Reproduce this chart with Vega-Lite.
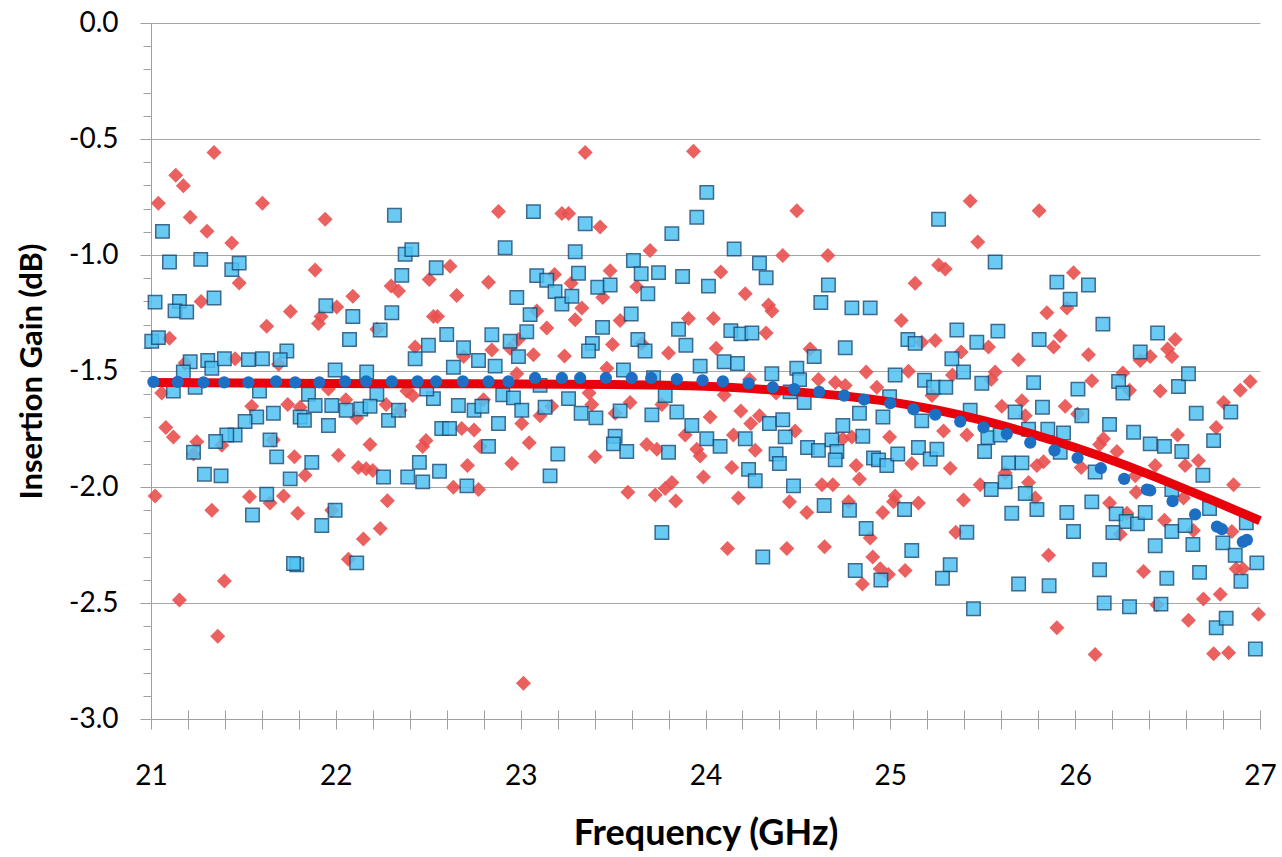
{
  "$schema": "https://vega.github.io/schema/vega-lite/v6.json",
  "width": 1109,
  "height": 696,
  "autosize": {"type": "none"},
  "padding": {"left": 151, "top": 23, "right": 22, "bottom": 138},
  "background": "white",
  "config": {"view": {"stroke": null}, "font": "Lato"},
  "datasets": {
    "red": [
      {"freq":21.341,"gain":-0.558},{"freq":21.134,"gain":-0.656},{"freq":21.175,"gain":-0.701},{"freq":21.040,"gain":-0.777},{"freq":21.603,"gain":-0.777},{"freq":21.212,"gain":-0.837},{"freq":21.942,"gain":-0.846},{"freq":21.303,"gain":-0.898},{"freq":21.437,"gain":-0.948},{"freq":21.888,"gain":-1.065},{"freq":21.477,"gain":-1.121},{"freq":21.271,"gain":-1.200},{"freq":21.754,"gain":-1.244},{"freq":21.626,"gain":-1.307},{"freq":21.906,"gain":-1.295},{"freq":21.920,"gain":-1.265},{"freq":22.005,"gain":-1.224},{"freq":21.100,"gain":-1.359},{"freq":21.455,"gain":-1.447},{"freq":21.690,"gain":-1.471},{"freq":21.184,"gain":-1.466},{"freq":21.058,"gain":-1.595},{"freq":21.960,"gain":-1.578},{"freq":21.545,"gain":-1.652},{"freq":21.740,"gain":-1.644},{"freq":21.807,"gain":-1.656},{"freq":21.080,"gain":-1.743},{"freq":21.121,"gain":-1.784},{"freq":21.248,"gain":-1.805},{"freq":21.230,"gain":-1.858},{"freq":21.383,"gain":-1.820},{"freq":21.662,"gain":-1.797},{"freq":21.776,"gain":-1.870},{"freq":21.834,"gain":-1.949},{"freq":22.014,"gain":-1.863},{"freq":21.022,"gain":-2.039},{"freq":21.329,"gain":-2.100},{"freq":21.533,"gain":-2.042},{"freq":21.644,"gain":-2.069},{"freq":21.717,"gain":-2.039},{"freq":21.794,"gain":-2.113},{"freq":21.978,"gain":-2.100},{"freq":21.397,"gain":-2.405},{"freq":21.154,"gain":-2.487},{"freq":21.361,"gain":-2.643},
      {"freq":22.880,"gain":-0.813},{"freq":22.092,"gain":-1.178},{"freq":22.299,"gain":-1.134},{"freq":22.339,"gain":-1.155},{"freq":22.505,"gain":-1.106},{"freq":22.618,"gain":-1.048},{"freq":22.654,"gain":-1.175},{"freq":22.826,"gain":-1.117},{"freq":22.528,"gain":-1.265},{"freq":22.550,"gain":-1.265},{"freq":22.222,"gain":-1.320},{"freq":22.429,"gain":-1.397},{"freq":22.691,"gain":-1.438},{"freq":22.844,"gain":-1.410},{"freq":22.943,"gain":-1.402},{"freq":22.988,"gain":-1.364},{"freq":22.384,"gain":-1.586},{"freq":22.416,"gain":-1.606},{"freq":22.054,"gain":-1.624},{"freq":22.272,"gain":-1.644},{"freq":22.113,"gain":-1.702},{"freq":22.348,"gain":-1.669},{"freq":22.799,"gain":-1.624},{"freq":22.681,"gain":-1.748},{"freq":22.748,"gain":-1.754},{"freq":23.006,"gain":-1.726},{"freq":22.185,"gain":-1.817},{"freq":22.470,"gain":-1.825},{"freq":22.488,"gain":-1.800},{"freq":22.781,"gain":-1.825},{"freq":22.122,"gain":-1.916},{"freq":22.164,"gain":-1.921},{"freq":22.200,"gain":-1.929},{"freq":22.712,"gain":-1.907},{"freq":22.952,"gain":-1.899},{"freq":22.636,"gain":-2.001},{"freq":22.772,"gain":-2.011},{"freq":22.279,"gain":-2.059},{"freq":22.240,"gain":-2.179},{"freq":22.149,"gain":-2.224},{"freq":22.068,"gain":-2.311},{"freq":23.015,"gain":-2.846},
      {"freq":23.349,"gain":-0.558},{"freq":23.935,"gain":-0.553},{"freq":23.223,"gain":-0.821},{"freq":23.259,"gain":-0.821},{"freq":23.430,"gain":-0.879},{"freq":23.700,"gain":-0.981},{"freq":23.183,"gain":-1.084},{"freq":23.273,"gain":-1.122},{"freq":23.484,"gain":-1.068},{"freq":23.628,"gain":-1.137},{"freq":23.444,"gain":-1.183},{"freq":23.331,"gain":-1.228},{"freq":23.087,"gain":-1.241},{"freq":23.295,"gain":-1.279},{"freq":23.538,"gain":-1.282},{"freq":23.908,"gain":-1.274},{"freq":23.141,"gain":-1.315},{"freq":23.497,"gain":-1.386},{"freq":23.069,"gain":-1.430},{"freq":23.237,"gain":-1.435},{"freq":23.800,"gain":-1.422},{"freq":23.466,"gain":-1.488},{"freq":23.655,"gain":-1.381},{"freq":22.979,"gain":-1.512},{"freq":23.370,"gain":-1.595},{"freq":23.385,"gain":-1.644},{"freq":23.592,"gain":-1.636},{"freq":23.764,"gain":-1.644},{"freq":23.511,"gain":-1.682},{"freq":23.168,"gain":-1.652},{"freq":23.105,"gain":-1.693},{"freq":23.046,"gain":-1.809},{"freq":23.890,"gain":-1.776},{"freq":23.682,"gain":-1.817},{"freq":23.737,"gain":-1.837},{"freq":23.953,"gain":-1.837},{"freq":23.971,"gain":-1.866},{"freq":23.403,"gain":-1.870},{"freq":23.989,"gain":-1.957},{"freq":23.580,"gain":-2.023},{"freq":23.728,"gain":-2.034},{"freq":23.782,"gain":-2.006},{"freq":23.818,"gain":-1.981},{"freq":23.839,"gain":-2.060},
      {"freq":24.494,"gain":-0.809},{"freq":24.418,"gain":-1.002},{"freq":24.662,"gain":-1.002},{"freq":24.083,"gain":-1.073},{"freq":24.215,"gain":-1.167},{"freq":24.341,"gain":-1.216},{"freq":24.359,"gain":-1.241},{"freq":24.043,"gain":-1.274},{"freq":24.328,"gain":-1.336},{"freq":24.058,"gain":-1.402},{"freq":24.566,"gain":-1.405},{"freq":24.869,"gain":-1.504},{"freq":24.611,"gain":-1.537},{"freq":24.702,"gain":-1.550},{"freq":24.756,"gain":-1.562},{"freq":24.927,"gain":-1.570},{"freq":24.238,"gain":-1.537},{"freq":24.101,"gain":-1.603},{"freq":24.382,"gain":-1.595},{"freq":24.025,"gain":-1.698},{"freq":24.191,"gain":-1.672},{"freq":24.245,"gain":-1.726},{"freq":24.292,"gain":-1.693},{"freq":24.151,"gain":-1.776},{"freq":24.485,"gain":-1.759},{"freq":24.743,"gain":-1.792},{"freq":24.792,"gain":-1.784},{"freq":24.996,"gain":-1.784},{"freq":24.269,"gain":-1.842},{"freq":24.142,"gain":-1.916},{"freq":24.815,"gain":-1.907},{"freq":24.833,"gain":-1.965},{"freq":24.630,"gain":-1.990},{"freq":24.689,"gain":-1.990},{"freq":24.178,"gain":-2.047},{"freq":24.454,"gain":-2.064},{"freq":24.548,"gain":-2.110},{"freq":24.774,"gain":-2.064},{"freq":24.959,"gain":-2.110},{"freq":25.026,"gain":-2.039},{"freq":24.119,"gain":-2.265},{"freq":24.440,"gain":-2.265},{"freq":24.644,"gain":-2.258},{"freq":24.891,"gain":-2.220},{"freq":24.905,"gain":-2.302},{"freq":24.945,"gain":-2.352},{"freq":24.990,"gain":-2.377},{"freq":24.849,"gain":-2.418},
      {"freq":25.432,"gain":-0.767},{"freq":25.805,"gain":-0.809},{"freq":25.473,"gain":-0.944},{"freq":25.261,"gain":-1.043},{"freq":25.297,"gain":-1.060},{"freq":25.134,"gain":-1.122},{"freq":25.991,"gain":-1.076},{"freq":25.059,"gain":-1.282},{"freq":25.847,"gain":-1.249},{"freq":25.955,"gain":-1.228},{"freq":25.919,"gain":-1.348},{"freq":25.883,"gain":-1.397},{"freq":25.243,"gain":-1.369},{"freq":25.170,"gain":-1.376},{"freq":25.383,"gain":-1.418},{"freq":25.531,"gain":-1.397},{"freq":25.693,"gain":-1.451},{"freq":25.098,"gain":-1.501},{"freq":25.336,"gain":-1.517},{"freq":25.567,"gain":-1.504},{"freq":25.546,"gain":-1.537},{"freq":25.225,"gain":-1.606},{"freq":25.603,"gain":-1.652},{"freq":25.712,"gain":-1.628},{"freq":25.730,"gain":-1.693},{"freq":25.946,"gain":-1.652},{"freq":25.288,"gain":-1.759},{"freq":25.414,"gain":-1.776},{"freq":25.116,"gain":-1.899},{"freq":25.324,"gain":-1.919},{"freq":25.793,"gain":-1.907},{"freq":25.829,"gain":-1.891},{"freq":25.621,"gain":-1.940},{"freq":25.748,"gain":-1.981},{"freq":25.486,"gain":-1.990},{"freq":25.017,"gain":-2.064},{"freq":25.152,"gain":-2.069},{"freq":25.396,"gain":-2.056},{"freq":25.784,"gain":-2.047},{"freq":25.354,"gain":-2.195},{"freq":25.856,"gain":-2.294},{"freq":25.080,"gain":-2.360},{"freq":25.901,"gain":-2.607},
      {"freq":26.072,"gain":-1.430},{"freq":26.090,"gain":-1.542},{"freq":26.258,"gain":-1.509},{"freq":26.294,"gain":-1.583},{"freq":26.352,"gain":-1.455},{"freq":26.406,"gain":-1.438},{"freq":26.500,"gain":-1.405},{"freq":26.541,"gain":-1.364},{"freq":26.523,"gain":-1.438},{"freq":26.460,"gain":-1.586},{"freq":26.803,"gain":-1.636},{"freq":26.763,"gain":-1.743},{"freq":26.893,"gain":-1.583},{"freq":26.947,"gain":-1.545},{"freq":26.013,"gain":-1.685},{"freq":26.153,"gain":-1.792},{"freq":26.132,"gain":-1.817},{"freq":26.226,"gain":-1.847},{"freq":26.033,"gain":-1.916},{"freq":26.554,"gain":-1.776},{"freq":26.595,"gain":-1.907},{"freq":26.667,"gain":-1.887},{"freq":26.433,"gain":-1.907},{"freq":26.325,"gain":-1.952},{"freq":26.857,"gain":-1.990},{"freq":26.330,"gain":-2.023},{"freq":26.186,"gain":-2.069},{"freq":26.586,"gain":-2.047},{"freq":26.483,"gain":-2.143},{"freq":26.640,"gain":-2.187},{"freq":26.848,"gain":-2.192},{"freq":26.244,"gain":-2.204},{"freq":26.280,"gain":-2.113},{"freq":26.370,"gain":-2.364},{"freq":26.871,"gain":-2.352},{"freq":26.907,"gain":-2.352},{"freq":26.694,"gain":-2.483},{"freq":26.785,"gain":-2.462},{"freq":26.613,"gain":-2.574},{"freq":26.992,"gain":-2.549},{"freq":26.108,"gain":-2.722},{"freq":26.749,"gain":-2.719},{"freq":26.830,"gain":-2.714},{"freq":26.442,"gain":-2.508}
    ],
    "blue": [
      {"freq":21.062,"gain":-0.898},{"freq":21.100,"gain":-1.030},{"freq":21.269,"gain":-1.019},{"freq":21.437,"gain":-1.063},{"freq":21.477,"gain":-1.035},{"freq":21.022,"gain":-1.203},{"freq":21.154,"gain":-1.200},{"freq":21.130,"gain":-1.241},{"freq":21.193,"gain":-1.246},{"freq":21.341,"gain":-1.185},{"freq":21.946,"gain":-1.219},{"freq":21.004,"gain":-1.372},{"freq":21.040,"gain":-1.356},{"freq":21.212,"gain":-1.460},{"freq":21.175,"gain":-1.504},{"freq":21.307,"gain":-1.455},{"freq":21.329,"gain":-1.488},{"freq":21.397,"gain":-1.447},{"freq":21.527,"gain":-1.451},{"freq":21.603,"gain":-1.447},{"freq":21.735,"gain":-1.414},{"freq":21.699,"gain":-1.451},{"freq":21.996,"gain":-1.496},{"freq":21.121,"gain":-1.586},{"freq":21.239,"gain":-1.570},{"freq":21.587,"gain":-1.586},{"freq":21.852,"gain":-1.600},{"freq":21.888,"gain":-1.649},{"freq":21.978,"gain":-1.649},{"freq":21.662,"gain":-1.682},{"freq":21.572,"gain":-1.698},{"freq":21.509,"gain":-1.718},{"freq":21.807,"gain":-1.698},{"freq":21.830,"gain":-1.713},{"freq":21.960,"gain":-1.735},{"freq":21.455,"gain":-1.776},{"freq":21.410,"gain":-1.776},{"freq":21.350,"gain":-1.804},{"freq":21.230,"gain":-1.850},{"freq":21.644,"gain":-1.797},{"freq":21.680,"gain":-1.870},{"freq":21.870,"gain":-1.894},{"freq":21.289,"gain":-1.945},{"freq":21.379,"gain":-1.952},{"freq":21.753,"gain":-1.965},{"freq":21.626,"gain":-2.031},{"freq":21.549,"gain":-2.121},{"freq":21.924,"gain":-2.166},{"freq":21.996,"gain":-2.100},{"freq":21.789,"gain":-2.335},{"freq":21.771,"gain":-2.330},
      {"freq":22.317,"gain":-0.829},{"freq":22.375,"gain":-0.997},{"freq":22.411,"gain":-0.977},{"freq":22.357,"gain":-1.088},{"freq":22.543,"gain":-1.055},{"freq":22.916,"gain":-0.969},{"freq":22.092,"gain":-1.265},{"freq":22.303,"gain":-1.249},{"freq":22.240,"gain":-1.323},{"freq":22.074,"gain":-1.364},{"freq":22.600,"gain":-1.343},{"freq":22.501,"gain":-1.389},{"freq":22.429,"gain":-1.447},{"freq":22.844,"gain":-1.344},{"freq":22.691,"gain":-1.400},{"freq":22.772,"gain":-1.455},{"freq":22.862,"gain":-1.479},{"freq":22.943,"gain":-1.372},{"freq":22.988,"gain":-1.438},{"freq":22.636,"gain":-1.484},{"freq":22.167,"gain":-1.504},{"freq":22.222,"gain":-1.600},{"freq":22.528,"gain":-1.619},{"freq":22.492,"gain":-1.578},{"freq":22.056,"gain":-1.669},{"freq":22.135,"gain":-1.664},{"freq":22.185,"gain":-1.652},{"freq":22.285,"gain":-1.713},{"freq":22.339,"gain":-1.669},{"freq":22.663,"gain":-1.649},{"freq":22.748,"gain":-1.669},{"freq":22.790,"gain":-1.652},{"freq":22.903,"gain":-1.603},{"freq":22.961,"gain":-1.616},{"freq":23.006,"gain":-1.669},{"freq":22.573,"gain":-1.748},{"freq":22.615,"gain":-1.748},{"freq":22.880,"gain":-1.726},{"freq":22.826,"gain":-1.825},{"freq":22.452,"gain":-1.894},{"freq":22.561,"gain":-1.932},{"freq":22.258,"gain":-1.957},{"freq":22.389,"gain":-1.957},{"freq":22.470,"gain":-1.978},{"freq":22.709,"gain":-1.995},{"freq":22.113,"gain":-2.327},
      {"freq":23.069,"gain":-0.813},{"freq":23.349,"gain":-0.865},{"freq":23.295,"gain":-0.986},{"freq":23.818,"gain":-0.908},{"freq":23.953,"gain":-0.837},{"freq":24.007,"gain":-0.730},{"freq":23.087,"gain":-1.089},{"freq":23.141,"gain":-1.109},{"freq":23.313,"gain":-1.079},{"freq":23.186,"gain":-1.158},{"freq":23.223,"gain":-1.211},{"freq":23.277,"gain":-1.178},{"freq":23.417,"gain":-1.139},{"freq":23.484,"gain":-1.129},{"freq":23.610,"gain":-1.024},{"freq":23.652,"gain":-1.081},{"freq":23.688,"gain":-1.167},{"freq":23.746,"gain":-1.076},{"freq":23.876,"gain":-1.093},{"freq":24.016,"gain":-1.134},{"freq":22.979,"gain":-1.183},{"freq":23.051,"gain":-1.257},{"freq":23.033,"gain":-1.331},{"freq":23.443,"gain":-1.312},{"freq":23.388,"gain":-1.381},{"freq":23.367,"gain":-1.414},{"freq":23.598,"gain":-1.254},{"freq":23.634,"gain":-1.364},{"freq":23.673,"gain":-1.414},{"freq":23.854,"gain":-1.320},{"freq":23.894,"gain":-1.389},{"freq":23.971,"gain":-1.479},{"freq":23.556,"gain":-1.496},{"freq":23.719,"gain":-1.529},{"freq":23.105,"gain":-1.562},{"freq":23.259,"gain":-1.619},{"freq":23.132,"gain":-1.656},{"freq":23.327,"gain":-1.682},{"freq":23.407,"gain":-1.702},{"freq":23.538,"gain":-1.672},{"freq":23.710,"gain":-1.689},{"freq":23.782,"gain":-1.606},{"freq":23.845,"gain":-1.677},{"freq":23.926,"gain":-1.735},{"freq":24.007,"gain":-1.792},{"freq":23.511,"gain":-1.781},{"freq":23.502,"gain":-1.814},{"freq":23.574,"gain":-1.847},{"freq":23.800,"gain":-1.850},{"freq":23.201,"gain":-1.858},{"freq":23.159,"gain":-1.952},{"freq":23.764,"gain":-2.196},
      {"freq":24.155,"gain":-0.974},{"freq":24.292,"gain":-1.035},{"freq":24.328,"gain":-1.098},{"freq":24.665,"gain":-1.129},{"freq":24.624,"gain":-1.205},{"freq":24.792,"gain":-1.228},{"freq":24.891,"gain":-1.228},{"freq":24.137,"gain":-1.326},{"freq":24.191,"gain":-1.340},{"freq":24.251,"gain":-1.336},{"freq":24.756,"gain":-1.400},{"freq":24.588,"gain":-1.438},{"freq":24.101,"gain":-1.460},{"freq":24.173,"gain":-1.468},{"freq":24.359,"gain":-1.512},{"freq":24.494,"gain":-1.488},{"freq":24.509,"gain":-1.537},{"freq":24.458,"gain":-1.590},{"freq":24.534,"gain":-1.636},{"freq":25.026,"gain":-1.517},{"freq":24.996,"gain":-1.611},{"freq":24.833,"gain":-1.682},{"freq":24.960,"gain":-1.698},{"freq":24.346,"gain":-1.726},{"freq":24.418,"gain":-1.710},{"freq":24.431,"gain":-1.784},{"freq":24.079,"gain":-1.825},{"freq":24.215,"gain":-1.792},{"freq":24.382,"gain":-1.858},{"freq":24.400,"gain":-1.899},{"freq":24.552,"gain":-1.830},{"freq":24.611,"gain":-1.842},{"freq":24.684,"gain":-1.797},{"freq":24.743,"gain":-1.735},{"freq":24.851,"gain":-1.781},{"freq":24.711,"gain":-1.847},{"freq":24.702,"gain":-1.883},{"freq":24.909,"gain":-1.875},{"freq":24.936,"gain":-1.883},{"freq":24.981,"gain":-1.907},{"freq":24.233,"gain":-1.924},{"freq":24.269,"gain":-1.973},{"freq":24.476,"gain":-1.995},{"freq":24.642,"gain":-2.080},{"freq":24.779,"gain":-2.100},{"freq":24.869,"gain":-2.179},{"freq":24.310,"gain":-2.302},{"freq":24.810,"gain":-2.360},{"freq":24.949,"gain":-2.401},
      {"freq":25.261,"gain":-0.846},{"freq":25.567,"gain":-1.030},{"freq":25.901,"gain":-1.117},{"freq":25.973,"gain":-1.191},{"freq":25.360,"gain":-1.323},{"freq":25.582,"gain":-1.328},{"freq":25.468,"gain":-1.376},{"freq":25.805,"gain":-1.364},{"freq":25.095,"gain":-1.364},{"freq":25.134,"gain":-1.381},{"freq":25.333,"gain":-1.447},{"freq":25.396,"gain":-1.504},{"freq":25.775,"gain":-1.550},{"freq":25.185,"gain":-1.540},{"freq":25.234,"gain":-1.570},{"freq":25.300,"gain":-1.570},{"freq":25.495,"gain":-1.553},{"freq":25.432,"gain":-1.669},{"freq":25.675,"gain":-1.677},{"freq":25.823,"gain":-1.656},{"freq":25.170,"gain":-1.715},{"freq":25.528,"gain":-1.787},{"freq":25.594,"gain":-1.776},{"freq":25.748,"gain":-1.751},{"freq":25.852,"gain":-1.751},{"freq":25.937,"gain":-1.767},{"freq":26.015,"gain":-1.578},{"freq":25.040,"gain":-1.858},{"freq":25.152,"gain":-1.830},{"freq":25.216,"gain":-1.879},{"freq":25.252,"gain":-1.837},{"freq":25.510,"gain":-1.847},{"freq":25.640,"gain":-1.896},{"freq":25.712,"gain":-1.896},{"freq":25.919,"gain":-1.850},{"freq":25.621,"gain":-1.978},{"freq":25.546,"gain":-2.011},{"freq":25.730,"gain":-2.028},{"freq":25.793,"gain":-2.097},{"freq":25.657,"gain":-2.113},{"freq":25.955,"gain":-2.110},{"freq":25.991,"gain":-2.192},{"freq":25.077,"gain":-2.097},{"freq":25.414,"gain":-2.195},{"freq":25.116,"gain":-2.274},{"freq":25.324,"gain":-2.335},{"freq":25.282,"gain":-2.393},{"freq":25.694,"gain":-2.418},{"freq":25.859,"gain":-2.426},{"freq":25.450,"gain":-2.525},
      {"freq":26.072,"gain":-1.129},{"freq":26.150,"gain":-1.298},{"freq":26.446,"gain":-1.336},{"freq":26.352,"gain":-1.418},{"freq":26.235,"gain":-1.545},{"freq":26.258,"gain":-1.595},{"freq":26.559,"gain":-1.567},{"freq":26.613,"gain":-1.512},{"freq":26.655,"gain":-1.682},{"freq":26.842,"gain":-1.677},{"freq":26.036,"gain":-1.693},{"freq":26.186,"gain":-1.730},{"freq":26.316,"gain":-1.764},{"freq":26.406,"gain":-1.814},{"freq":26.483,"gain":-1.825},{"freq":26.577,"gain":-1.847},{"freq":26.749,"gain":-1.800},{"freq":26.108,"gain":-1.935},{"freq":26.691,"gain":-1.949},{"freq":26.090,"gain":-2.064},{"freq":26.222,"gain":-2.116},{"freq":26.276,"gain":-2.149},{"freq":26.337,"gain":-2.159},{"freq":26.379,"gain":-2.110},{"freq":26.523,"gain":-2.011},{"freq":26.523,"gain":-2.192},{"freq":26.595,"gain":-2.166},{"freq":26.727,"gain":-2.093},{"freq":26.204,"gain":-2.196},{"freq":26.433,"gain":-2.253},{"freq":26.637,"gain":-2.248},{"freq":26.799,"gain":-2.241},{"freq":26.866,"gain":-2.294},{"freq":26.926,"gain":-2.154},{"freq":26.983,"gain":-2.327},{"freq":26.897,"gain":-2.406},{"freq":26.132,"gain":-2.357},{"freq":26.496,"gain":-2.393},{"freq":26.673,"gain":-2.368},{"freq":26.157,"gain":-2.500},{"freq":26.294,"gain":-2.516},{"freq":26.464,"gain":-2.505},{"freq":26.763,"gain":-2.607},{"freq":26.817,"gain":-2.566},{"freq":26.975,"gain":-2.698}
    ],
    "avg": [
      {"freq":21.013,"gain":-1.547},{"freq":21.145,"gain":-1.547},{"freq":21.284,"gain":-1.549},{"freq":21.396,"gain":-1.549},{"freq":21.527,"gain":-1.549},{"freq":21.677,"gain":-1.545},{"freq":21.780,"gain":-1.549},{"freq":21.911,"gain":-1.549},{"freq":22.050,"gain":-1.545},{"freq":22.164,"gain":-1.545},{"freq":22.303,"gain":-1.545},{"freq":22.442,"gain":-1.545},{"freq":22.543,"gain":-1.545},{"freq":22.687,"gain":-1.545},{"freq":22.826,"gain":-1.545},{"freq":22.934,"gain":-1.545},{"freq":23.078,"gain":-1.530},{"freq":23.223,"gain":-1.530},{"freq":23.322,"gain":-1.530},{"freq":23.461,"gain":-1.530},{"freq":23.601,"gain":-1.530},{"freq":23.706,"gain":-1.530},{"freq":23.845,"gain":-1.535},{"freq":23.984,"gain":-1.540},{"freq":24.094,"gain":-1.545},{"freq":24.233,"gain":-1.553},{"freq":24.364,"gain":-1.570},{"freq":24.480,"gain":-1.578},{"freq":24.615,"gain":-1.590},{"freq":24.750,"gain":-1.606},{"freq":24.858,"gain":-1.623},{"freq":25.000,"gain":-1.639},{"freq":25.125,"gain":-1.665},{"freq":25.243,"gain":-1.688},{"freq":25.378,"gain":-1.718},{"freq":25.504,"gain":-1.743},{"freq":25.630,"gain":-1.771},{"freq":25.757,"gain":-1.809},{"freq":25.888,"gain":-1.842},{"freq":26.013,"gain":-1.875},{"freq":26.139,"gain":-1.919},{"freq":26.265,"gain":-1.965},{"freq":26.388,"gain":-2.011},{"freq":26.406,"gain":-2.015},{"freq":26.527,"gain":-2.061},{"freq":26.649,"gain":-2.118},{"freq":26.767,"gain":-2.171},{"freq":26.794,"gain":-2.182},{"freq":26.907,"gain":-2.237},{"freq":26.929,"gain":-2.228}
    ],
    "fit": [
      {"freq":21,"gain":-1.550},{"freq":21.5,"gain":-1.552},{"freq":22,"gain":-1.554},{"freq":22.5,"gain":-1.555},{"freq":23,"gain":-1.556},{"freq":23.5,"gain":-1.558},{"freq":24,"gain":-1.566},{"freq":24.25,"gain":-1.576},{"freq":24.5,"gain":-1.590},{"freq":24.75,"gain":-1.608},{"freq":25,"gain":-1.633},{"freq":25.25,"gain":-1.668},{"freq":25.5,"gain":-1.713},{"freq":25.75,"gain":-1.768},{"freq":26,"gain":-1.830},{"freq":26.25,"gain":-1.900},{"freq":26.5,"gain":-1.978},{"freq":26.75,"gain":-2.060},{"freq":27,"gain":-2.145}
    ]
  },
  "resolve": {"axis": {"x": "independent", "y": "independent"}},
  "layer": [
    {
      "data": {"name": "red"},
      "mark": {"type": "point", "shape": "diamond", "filled": true, "size": 225, "color": "#E8504F", "opacity": 0.9},
      "encoding": {
        "x": {
          "field": "freq", "type": "quantitative",
          "scale": {"domain": [21, 27], "nice": false, "zero": false},
          "axis": {
            "orient": "bottom",
            "title": "Frequency (GHz)",
            "values": [21,21.2,21.4,21.6,21.8,22,22.2,22.4,22.6,22.8,23,23.2,23.4,23.6,23.8,24,24.2,24.4,24.6,24.8,25,25.2,25.4,25.6,25.8,26,26.2,26.4,26.6,26.8,27],
            "labelExpr": "abs(datum.value - round(datum.value)) < 0.001 ? format(round(datum.value), 'd') : ''",
            "grid": false,
            "domainColor": "#a0a0a0", "domainWidth": 1,
            "tickColor": "#a0a0a0", "tickSize": 10, "tickWidth": 1,
            "labelFont": "Lato", "labelFontSize": 28, "labelColor": "#000000",
            "labelPadding": 33, "labelOverlap": false, "labelFlush": false,
            "titleFont": "Lato", "titleFontSize": 36, "titleFontWeight": "bold", "titleColor": "#000000",
            "titlePadding": 26
          }
        },
        "y": {
          "field": "gain", "type": "quantitative",
          "scale": {"domain": [-3, 0], "nice": false, "zero": false},
          "axis": {
            "orient": "left",
            "title": "Insertion Gain (dB)",
            "values": [0,-0.1,-0.2,-0.3,-0.4,-0.5,-0.6,-0.7,-0.8,-0.9,-1,-1.1,-1.2,-1.3,-1.4,-1.5,-1.6,-1.7,-1.8,-1.9,-2,-2.1,-2.2,-2.3,-2.4,-2.5,-2.6,-2.7,-2.8,-2.9,-3],
            "labelExpr": "abs(datum.value*2 - round(datum.value*2)) < 0.001 ? (datum.value < -0.001 ? '-' : '') + format(abs(datum.value), '.1f') : ''",
            "grid": true,
            "gridColor": "#a6a6a6",
            "gridOpacity": {"condition": {"test": "abs(datum.value*2 - round(datum.value*2)) < 0.001", "value": 1}, "value": 0},
            "tickSize": {"condition": {"test": "abs(datum.value*2 - round(datum.value*2)) < 0.001", "value": 11}, "value": 8},
            "tickColor": "#a0a0a0", "tickWidth": 1,
            "domainColor": "#a0a0a0", "domainWidth": 1,
            "labelFont": "Lato", "labelFontSize": 28, "labelColor": "#000000",
            "labelPadding": 22, "labelOverlap": false, "labelFlush": false,
            "titleFont": "Lato", "titleFontSize": 31, "titleFontWeight": "bold", "titleColor": "#000000",
            "titlePadding": 20
          }
        }
      }
    },
    {
      "data": {"name": "blue"},
      "mark": {"type": "point", "shape": "square", "filled": true, "size": 180, "fill": "#4FC2F2", "stroke": "#1B4F7C", "strokeWidth": 1.5, "opacity": 0.85},
      "encoding": {
        "x": {"field": "freq", "type": "quantitative", "axis": null},
        "y": {"field": "gain", "type": "quantitative", "axis": null}
      }
    },
    {
      "data": {"name": "fit"},
      "mark": {"type": "line", "color": "#E8000B", "strokeWidth": 9, "interpolate": "monotone"},
      "encoding": {
        "x": {"field": "freq", "type": "quantitative", "axis": null},
        "y": {"field": "gain", "type": "quantitative", "axis": null}
      }
    },
    {
      "data": {"name": "avg"},
      "mark": {"type": "circle", "size": 150, "color": "#1D6FC4", "opacity": 1},
      "encoding": {
        "x": {
          "field": "freq", "type": "quantitative",
          "axis": {
            "orient": "bottom",
            "title": null,
            "values": [21,21.2,21.4,21.6,21.8,22,22.2,22.4,22.6,22.8,23,23.2,23.4,23.6,23.8,24,24.2,24.4,24.6,24.8,25,25.2,25.4,25.6,25.8,26,26.2,26.4,26.6,26.8,27],
            "labels": false, "domain": false, "grid": false,
            "tickColor": "#a0a0a0", "tickSize": -9, "tickWidth": 1
          }
        },
        "y": {"field": "gain", "type": "quantitative", "axis": null}
      }
    }
  ]
}
